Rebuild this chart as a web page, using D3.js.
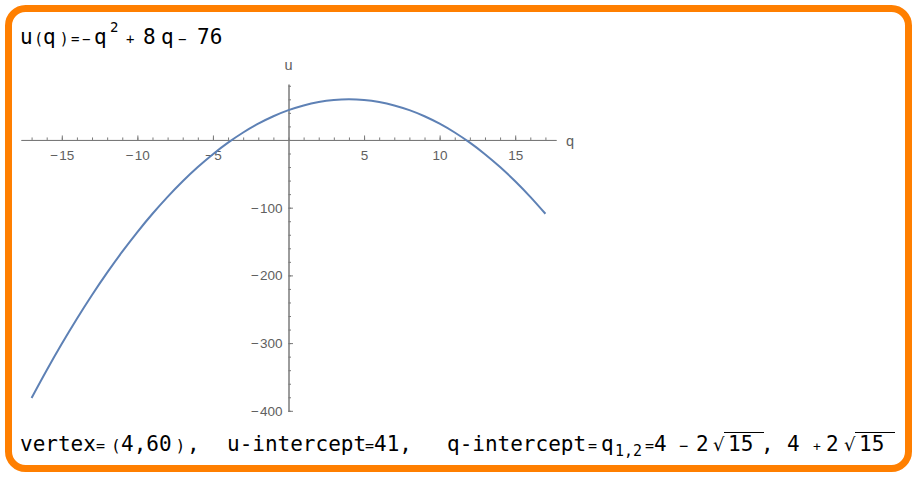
<!DOCTYPE html>
<html>
<head>
<meta charset="utf-8">
<script src="https://cdn.jsdelivr.net/npm/d3@7"></script>
<style>
  html, body { margin: 0; padding: 0; background: #fff; }
  svg { display: block; }
  .tick text { font-family: "Liberation Sans", Arial, sans-serif; font-size: 13.5px; fill: #606060; }
</style>
</head>
<body>
<svg id="chart" width="917" height="479"></svg>
<script>
// ---- data ----
const qValues = [-17,-16,-15,-14,-13,-12,-11,-10,-9,-8,-7,-6,-5,-4,-3,-2,-1,0,1,2,3,4,5,6,7,8,9,10,11,12,13,14,15,16,17];
const uValues = [-381,-340,-301,-264,-229,-196,-165,-136,-109,-84,-61,-40,-21,-4,11,24,35,44,51,56,59,60,59,56,51,44,35,24,11,-4,-21,-40,-61,-84,-109];
const xMajorTicks = [-15,-10,-5,5,10,15];
const xMinorTicks = d3.range(-17, 18, 1);
const yMajorTicks = [-100,-200,-300,-400];
const yMinorTicks = d3.range(-400, 81, 20);
const xLabel = "q";
const yLabel = "u";

const svg = d3.select("#chart");
const mono = "'DejaVu Sans Mono', monospace";
const sans = "'DejaVu Sans', sans-serif";

// frame
svg.append("rect")
  .attr("x", 8.5).attr("y", 8.5).attr("width", 900).attr("height", 460)
  .attr("rx", 17).attr("ry", 17)
  .attr("fill", "#fff").attr("stroke", "#ff7f00").attr("stroke-width", 7);

// scales
const x = d3.scaleLinear().domain([-17.7, 17.7]).range([21, 556]);
const y = d3.scaleLinear().domain([82.5, -401]).range([84.1, 411.5]);

const axisColor = "#7a7a7a";
const fmt = d => d < 0 ? "\u2212\u200A" + Math.abs(d) : d;

// x axis
const gx = svg.append("g").attr("transform", `translate(0,${y(0)})`);
gx.append("g").call(d3.axisBottom(x).tickValues(xMinorTicks).tickSize(-2.5).tickSizeOuter(0).tickFormat(""));
gx.append("g").call(d3.axisBottom(x).tickValues(xMajorTicks).tickSize(-4.5).tickSizeOuter(0).tickPadding(10).tickFormat(fmt));
// y axis
const gy = svg.append("g").attr("transform", `translate(${x(0)},0)`);
gy.append("g").call(d3.axisLeft(y).tickValues(yMinorTicks).tickSize(-2.5).tickSizeOuter(0).tickFormat(""));
gy.append("g").call(d3.axisLeft(y).tickValues(yMajorTicks).tickSize(-4.5).tickSizeOuter(0).tickPadding(6).tickFormat(fmt));

svg.selectAll(".domain, .tick line").attr("stroke", axisColor).attr("stroke-width", 1);

svg.append("text").attr("x", x(0)).attr("y", 70).attr("text-anchor", "middle")
  .attr("font-family", "'Liberation Sans', Arial, sans-serif").attr("font-size", 14.5).attr("fill", "#606060").text(yLabel);
svg.append("text").attr("x", 566).attr("y", 146)
  .attr("font-family", "'Liberation Sans', Arial, sans-serif").attr("font-size", 14.5).attr("fill", "#606060").text(xLabel);

// curve
const pts = qValues.map((q, i) => [q, uValues[i]]);
svg.append("path").datum(pts)
  .attr("fill", "none").attr("stroke", "#5e81b5").attr("stroke-width", 2)
  .attr("d", d3.line().x(d => x(d[0])).y(d => y(d[1])).curve(d3.curveCatmullRom));

// text helper: pieces [text, x, size, dy, family]
function put(pieces, baseline) {
  pieces.forEach(p => {
    svg.append("text").attr("x", p[1]).attr("y", baseline + (p[3] || 0))
      .attr("font-family", p[4] || mono).attr("font-size", p[2]).attr("fill", "#000").text(p[0]);
  });
}

// title
put([
  ["u", 20, 21], ["(", 36, 15, 0, sans], ["q", 43, 21], [")", 61, 15, 0, sans],
  ["=", 71, 14], ["\u2212", 82, 14], ["q", 94, 21], ["2", 110, 14, -12],
  ["+", 126, 14], ["8", 143, 21], ["q", 161, 21], ["\u2212", 178, 14], ["76", 197, 21]
], 44);

// bottom line
const bl = 451;
put([
  ["vertex", 20, 21], ["=", 96, 15], ["(", 113, 16, 0, sans], ["4,60", 121, 21], [")", 177, 16, 0, sans],
  [",", 187, 21],
  ["u-intercept", 227, 21], ["=", 365, 15], ["41,", 374, 21],
  ["q-intercept", 447, 21], ["=", 588, 15], ["q", 601, 21], ["1,2", 615, 15, 5],
  ["=", 645, 15], ["4", 654, 21], ["\u2212", 679, 15], ["2", 696, 21], ["\u221A", 713, 18, 0, sans], ["15", 728, 21],
  [",", 761, 21], ["4", 787, 21], ["+", 813, 13], ["2", 826, 21], ["\u221A", 844, 18, 0, sans], ["15", 859, 21]
], bl);
// overlines of the radicals
[[724, 764], [855, 895]].forEach(r => {
  svg.append("line").attr("x1", r[0]).attr("x2", r[1]).attr("y1", 432.5).attr("y2", 432.5)
    .attr("stroke", "#000").attr("stroke-width", 1);
});
</script>
</body>
</html>
